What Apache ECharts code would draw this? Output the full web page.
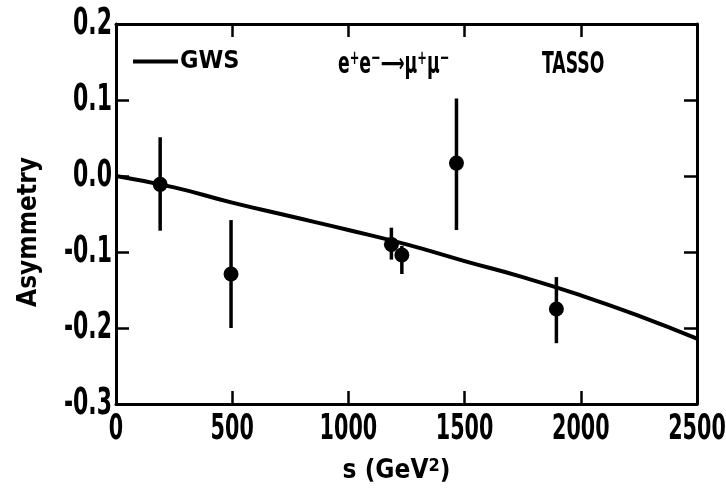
<!DOCTYPE html>
<html>
<head>
<meta charset="utf-8">
<script src="https://cdn.jsdelivr.net/npm/echarts@6/dist/echarts.min.js"></script>
<style>
  html, body { margin: 0; padding: 0; background: #fff; }
  #chart { width: 726px; height: 492px; }
</style>
</head>
<body>
<div id="chart"></div>
<script>
// measured points (TASSO)
const sPoints = [190, 495, 1185, 1230, 1465, 1895];
const asymPoints = [-0.011, -0.129, -0.090, -0.104, 0.017, -0.175];
const errHigh = [0.051, -0.058, -0.068, -0.092, 0.102, -0.133];
const errLow = [-0.072, -0.200, -0.110, -0.129, -0.071, -0.220];

// GWS prediction curve
const gwsS = [0, 250, 500, 750, 1000, 1250, 1500, 1750, 2000, 2250, 2500];
const gwsA = [0.0, -0.015, -0.035, -0.053, -0.071, -0.090, -0.112, -0.133, -0.157, -0.184, -0.214];

// tick labels
const xTicks = [0, 500, 1000, 1500, 2000, 2500];
const yTicks = [-0.3, -0.2, -0.1, 0.0, 0.1, 0.2];
const yTickLabels = ['-0.3', '-0.2', '-0.1', '0.0', '0.1', '0.2'];

const FONT = "'DejaVu Sans Condensed', 'DejaVu Sans', sans-serif";
const GRID = { left: 116, top: 24, width: 581, height: 380 };

let chart = echarts.init(document.getElementById('chart'));

let points = sPoints.map((s, i) => [s, asymPoints[i]]);
let bars = sPoints.map((s, i) => [s, errLow[i], errHigh[i]]);
let curve = gwsS.map((s, i) => [s, gwsA[i]]);

let axisLine = { show: true, onZero: false, lineStyle: { color: '#000', width: 3 } };
let tick = { show: true, inside: true, length: 13, lineStyle: { color: '#000', width: 2.5 } };

let option = {
  animation: false,
  backgroundColor: '#fff',
  grid: Object.assign({ containLabel: false, outerBoundsMode: 'none' }, GRID),
  legend: {
    left: 133, top: 49, padding: 0,
    data: ['GWS'],
    icon: 'rect',
    itemWidth: 45, itemHeight: 4, itemGap: 0,
    textStyle: { fontFamily: FONT, fontSize: 25, fontWeight: 'bold', color: '#000', padding: [0, 0, 0, -3] }
  },
  xAxis: [
    {
      type: 'value', min: 0, max: 2500, interval: 500, position: 'bottom',
      axisLine: axisLine, axisTick: tick, splitLine: { show: false },
      axisLabel: { show: false },
      name: 's (GeV{sup|2})', nameLocation: 'middle', nameGap: 53,
      nameTextStyle: {
        fontFamily: FONT, fontSize: 26, fontWeight: 'bold', color: '#000', padding: [0, 20, 0, 0],
        rich: { sup: { fontFamily: FONT, fontSize: 18, fontWeight: 'bold', verticalAlign: 'top', padding: [0, 0, 11, 0] } }
      }
    },
    {
      type: 'value', min: 0, max: 2500, interval: 500, position: 'top',
      axisLine: axisLine, axisTick: tick, axisLabel: { show: false }, splitLine: { show: false }
    }
  ],
  yAxis: [
    {
      type: 'value', min: -0.3, max: 0.2, interval: 0.1, position: 'left',
      axisLine: axisLine, axisTick: tick, splitLine: { show: false },
      axisLabel: { show: false },
      name: 'Asymmetry', nameLocation: 'middle', nameGap: 74, nameRotate: 90,
      nameTextStyle: { fontFamily: FONT, fontSize: 26, fontWeight: 'bold', color: '#000', padding: [0, 0, 0, -36] }
    },
    {
      type: 'value', min: -0.3, max: 0.2, interval: 0.1, position: 'right',
      axisLine: axisLine, axisTick: tick, axisLabel: { show: false }, splitLine: { show: false }
    }
  ],
  series: [
    {
      name: 'GWS', type: 'line', data: curve, smooth: true, showSymbol: false,
      lineStyle: { color: '#000', width: 4 }, itemStyle: { color: '#000' }
    },
    {
      name: 'err', type: 'custom', data: bars,
      renderItem: function (params, api) {
        let lo = api.coord([api.value(0), api.value(1)]);
        let hi = api.coord([api.value(0), api.value(2)]);
        return {
          type: 'line',
          shape: { x1: lo[0], y1: lo[1], x2: hi[0], y2: hi[1] },
          style: { stroke: '#000', lineWidth: 3.5 }
        };
      }
    },
    {
      name: 'TASSO', type: 'scatter', data: points, symbol: 'circle', symbolSize: 15,
      itemStyle: { color: '#000', opacity: 1 }
    }
  ]
};
chart.setOption(option);

// tick labels in the narrow lettering of the original, placed through the axes' scales
let graphics = [
  {
    type: 'text', x: 338, y: 65, scaleX: 0.64,
    style: {
      text: 'e{sup|+}e{sup|\u2212}{arr|\u27F6}\u03BC{sup|+}\u03BC{sup|\u2212}',
      font: 'bold 30px ' + FONT, fill: '#000', verticalAlign: 'middle',
      rich: {
        sup: { fontSize: 20, fontFamily: FONT, fontWeight: 'bold', verticalAlign: 'top', padding: [0, 0, 12, 0] },
        arr: { fontSize: 26, fontFamily: 'DejaVu Sans', fontWeight: 'bold' }
      }
    }
  },
  {
    type: 'text', x: 542, y: 65, scaleX: 0.64,
    style: { text: 'TASSO', font: 'bold 30px ' + FONT, fill: '#000', verticalAlign: 'middle' }
  }
];
xTicks.forEach(v => {
  let px = chart.convertToPixel({ xAxisIndex: 0 }, v);
  graphics.push({
    type: 'text', x: px, y: 430, scaleX: 0.64,
    style: { text: String(v), font: 'bold 36px ' + FONT, fill: '#000', align: 'center', verticalAlign: 'middle' }
  });
});
yTicks.forEach((v, i) => {
  let py = chart.convertToPixel({ yAxisIndex: 0 }, v);
  graphics.push({
    type: 'text', x: 112, y: py, scaleX: 0.66,
    style: { text: yTickLabels[i], font: 'bold 37px ' + FONT, fill: '#000', align: 'right', verticalAlign: 'middle' }
  });
});
chart.setOption({ graphic: graphics });
</script>
</body>
</html>
